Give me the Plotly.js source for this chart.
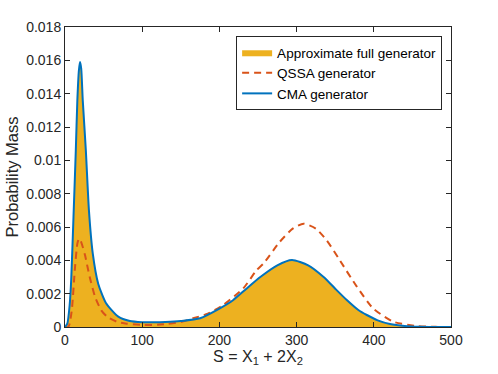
<!DOCTYPE html>
<html>
<head>
<meta charset="utf-8">
<script src="https://cdn.plot.ly/plotly-3.0.1.min.js"></script>
<style>
  html, body { margin: 0; padding: 0; background: #fff; }
  #chart { width: 498px; height: 374px; }
</style>
</head>
<body>
<div id="chart"></div>
<script>
// CMA generator (also the shaded full-generator area)
const sCMA = [0, 3, 6, 8, 11, 14, 16, 18, 19.5, 21, 23, 27, 31, 36, 43, 53, 69, 84, 100, 115, 130, 150, 175, 200, 218, 235, 253, 275, 294, 315, 335, 350, 365, 380, 391, 405, 421, 440, 460, 480, 500];
const vCMA = [0, 0.0002, 0.0013, 0.0028, 0.0066, 0.0106, 0.0136, 0.0154, 0.0159, 0.0155, 0.0136, 0.0106, 0.0070, 0.0044, 0.0026, 0.00144, 0.00062, 0.00036, 0.00029, 0.00028, 0.0003, 0.00036, 0.00052, 0.0011, 0.00162, 0.0023, 0.0030, 0.0037, 0.00402, 0.0037, 0.0030, 0.0023, 0.00162, 0.00102, 0.00072, 0.0004, 0.00018, 0.00006, 0.00001, 0, 0];

// QSSA generator
const sQSSA = [0, 4, 6, 9, 13, 16, 18, 20, 23, 26, 32, 39, 47, 55, 67, 80, 101, 120, 132, 150, 166, 185, 205, 231, 248, 257, 278, 295, 309, 325, 339, 356, 378, 399, 425, 455, 480, 500];
const vQSSA = [0, 0, 0.0002, 0.0011, 0.0036, 0.0050, 0.0053, 0.0052, 0.0048, 0.0043, 0.0030, 0.0018, 0.0010, 0.0006, 0.00032, 0.0002, 0.00012, 0.00013, 0.00018, 0.0003, 0.00052, 0.0008, 0.00132, 0.00232, 0.0034, 0.0038, 0.0051, 0.0059, 0.0062, 0.0059, 0.0052, 0.0040, 0.00242, 0.00112, 0.00032, 0.00006, 0.00001, 0];

const xTicks = [0, 100, 200, 300, 400, 500];
const yTicks = [0, 0.002, 0.004, 0.006, 0.008, 0.01, 0.012, 0.014, 0.016, 0.018];
const yTickText = ['0', '0.002', '0.004', '0.006', '0.008', '0.01', '0.012', '0.014', '0.016', '0.018'];

const font = {family: 'Liberation Sans, Arial, sans-serif', color: '#262626'};
const axisBase = {
  showline: true,
  linecolor: '#262626',
  linewidth: 1,
  mirror: 'ticks',
  ticks: 'inside',
  ticklen: 5,
  tickcolor: '#262626',
  showgrid: false,
  zeroline: false,
  tickfont: {size: 14}
};

Plotly.newPlot('chart', [{
  x: sCMA,
  y: vCMA,
  name: 'Approximate full generator',
  mode: 'lines',
  fill: 'tozeroy',
  fillcolor: '#EDB120',
  line: {width: 0, color: '#EDB120', shape: 'spline', smoothing: 0.6}
}, {
  x: sQSSA,
  y: vQSSA,
  name: 'QSSA generator',
  mode: 'lines',
  line: {color: '#D95319', width: 2, dash: '7px,5px', shape: 'spline', smoothing: 0.6}
}, {
  x: sCMA,
  y: vCMA,
  name: 'CMA generator',
  mode: 'lines',
  line: {color: '#0072BD', width: 2, shape: 'spline', smoothing: 0.6}
}], {
  width: 498,
  height: 374,
  margin: {l: 65, r: 47, t: 27, b: 47},
  paper_bgcolor: '#fff',
  plot_bgcolor: '#fff',
  font: font,
  showlegend: true,
  hovermode: false,
  legend: {
    x: 0.977, y: 0.97, xanchor: 'right', yanchor: 'top',
    bgcolor: '#fff', bordercolor: '#262626', borderwidth: 1,
    font: {size: 13.5, color: '#000'},
    tracegroupgap: 0,
    itemwidth: 30
  },
  xaxis: Object.assign({}, axisBase, {
    range: [0, 500],
    tickvals: xTicks,
    title: {text: 'S = X<sub>1</sub> + 2X<sub>2</sub>', font: {size: 16}, standoff: 3}
  }),
  yaxis: Object.assign({}, axisBase, {
    range: [0, 0.018],
    tickvals: yTicks,
    ticktext: yTickText,
    title: {text: 'Probability Mass', font: {size: 16.5}, standoff: 3}
  })
}, {
  displayModeBar: false
});
</script>
</body>
</html>
